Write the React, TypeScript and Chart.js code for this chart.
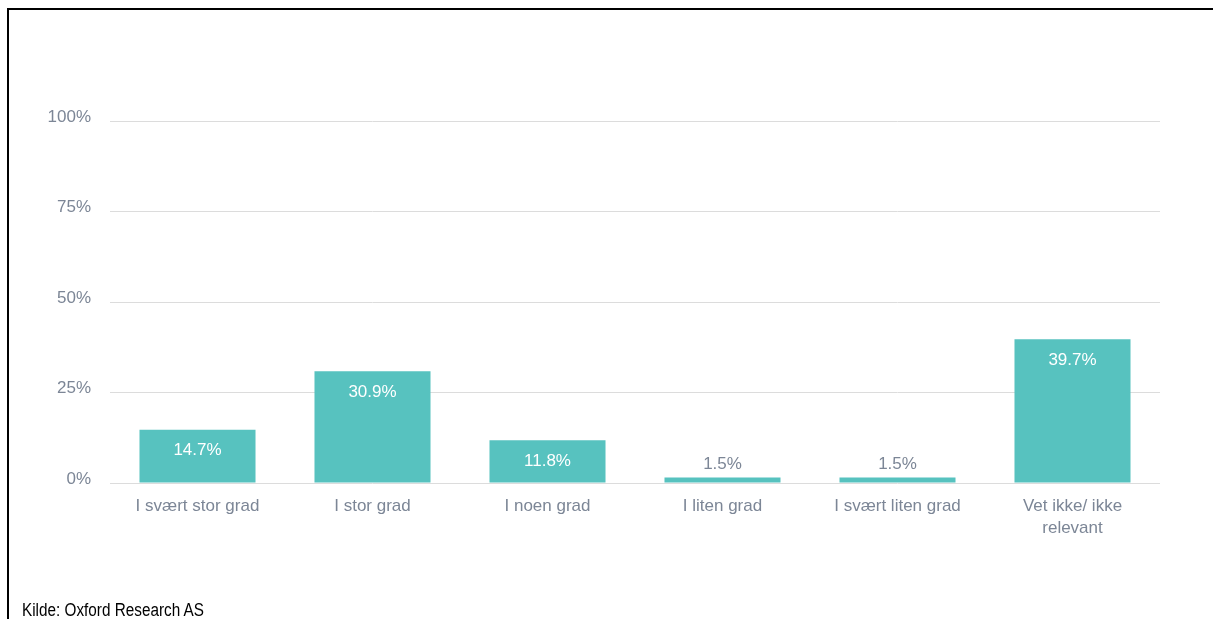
import React, { useEffect, useRef } from "react";
import { Chart, registerables } from "chart.js";

Chart.register(...registerables);

const categories: (string | string[])[] = [
  "I svært stor grad",
  "I stor grad",
  "I noen grad",
  "I liten grad",
  "I svært liten grad",
  ["Vet ikke/ ikke", "relevant"],
];
const values: number[] = [14.7, 30.9, 11.8, 1.5, 1.5, 39.7];
const yTicks: number[] = [0, 25, 50, 75, 100];
const sourceText = "Kilde: Oxford Research AS";

const W = 1213;
const H = 619;
const BAR_COLOR = "#57c2bf";
const TEXT_COLOR = "#7c8696";
const FONT = "'Liberation Sans', Arial, sans-serif";

const valueLabels = {
  id: "valueLabels",
  afterDatasetsDraw(chart: any) {
    const ctx = chart.ctx;
    const meta = chart.getDatasetMeta(0);
    ctx.save();
    ctx.font = `17px ${FONT}`;
    ctx.textAlign = "center";
    ctx.textBaseline = "middle";
    meta.data.forEach((bar: any, i: number) => {
      const v = values[i];
      const h = bar.base - bar.y;
      const txt = v.toFixed(1) + "%";
      if (h > 30) {
        ctx.fillStyle = "#ffffff";
        ctx.fillText(txt, bar.x, bar.y + 21);
      } else {
        ctx.fillStyle = TEXT_COLOR;
        ctx.fillText(txt, bar.x, bar.y - 13);
      }
    });
    ctx.restore();
  },
};

export default function App() {
  const ref = useRef<HTMLCanvasElement | null>(null);

  useEffect(() => {
    if (!ref.current) return;
    const chart = new Chart(ref.current, {
      type: "bar",
      data: {
        labels: categories,
        datasets: [
          {
            data: values,
            backgroundColor: BAR_COLOR,
            borderWidth: 0,
            barPercentage: 0.663,
            categoryPercentage: 1,
          },
        ],
      },
      options: {
        responsive: false,
        animation: false,
        events: [],
        layout: { padding: { left: 0, right: 53, top: 121, bottom: 0 } },
        plugins: {
          legend: { display: false },
          tooltip: { enabled: false },
        },
        scales: {
          x: {
            grid: { display: false, drawTicks: false },
            border: { display: false },
            ticks: {
              color: TEXT_COLOR,
              font: { family: FONT, size: 17, lineHeight: 1.25 },
              padding: 13,
              maxRotation: 0,
              autoSkip: false,
            },
            afterFit(scale: any) {
              scale.height = H - 483;
            },
          },
          y: {
            min: 0,
            max: 100,
            afterBuildTicks(scale: any) {
              scale.ticks = yTicks.map((v) => ({ value: v }));
            },
            grid: { color: "#dcdcdc", lineWidth: 1, drawTicks: false },
            border: { display: false },
            ticks: {
              color: TEXT_COLOR,
              font: { family: FONT, size: 17 },
              padding: 19,
              labelOffset: -4,
              callback: (v: any) => v + "%",
            },
            afterFit(scale: any) {
              scale.width = 110;
            },
          },
        },
      },
      plugins: [valueLabels],
    });
    return () => chart.destroy();
  }, []);

  return (
    <div
      style={{
        position: "fixed",
        left: 0,
        top: 0,
        width: W,
        height: H,
        background: "#ffffff",
        overflow: "hidden",
      }}
    >
      <div
        style={{
          position: "absolute",
          left: 7,
          top: 8,
          width: W,
          height: H,
          borderTop: "2px solid #000",
          borderLeft: "2px solid #000",
          boxSizing: "border-box",
        }}
      />
      <canvas
        ref={ref}
        width={W}
        height={H}
        style={{ position: "absolute", left: 0, top: 0 }}
      />
      <div
        style={{
          position: "absolute",
          left: 22,
          top: 601,
          fontFamily: "'Liberation Sans Narrow', 'Arial Narrow', 'Liberation Sans', Arial, sans-serif",
          fontSize: 18,
          lineHeight: "18px",
          color: "#000",
          whiteSpace: "nowrap",
          transform: "scaleX(0.85)",
          transformOrigin: "left top",
        }}
      >
        {sourceText}
      </div>
    </div>
  );
}
